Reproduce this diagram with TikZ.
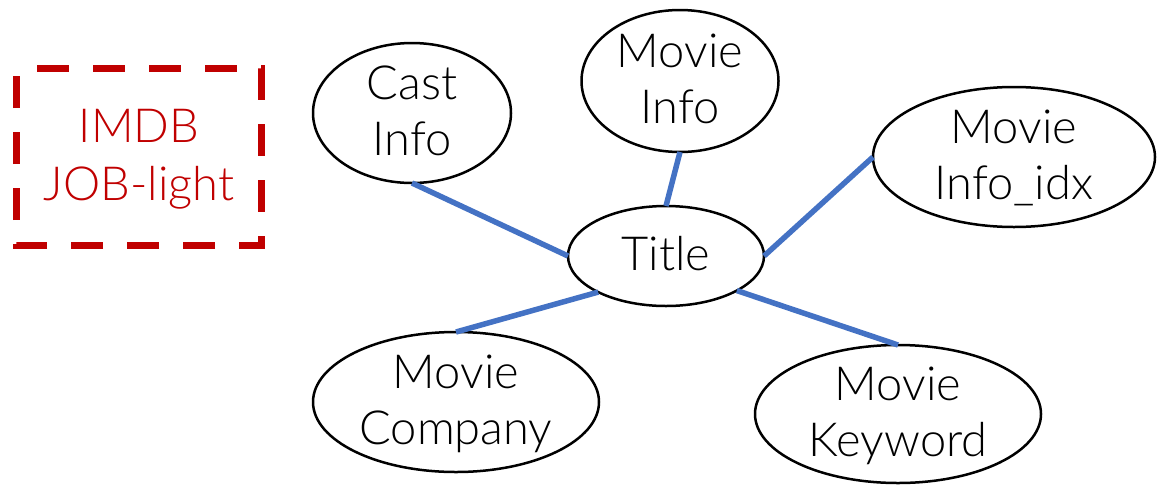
\documentclass[tikz,border=0pt]{standalone}
\usepackage{fontspec}
\setmainfont{Lato}[UprightFont={* Light}]
\usetikzlibrary{shapes.geometric}
\definecolor{linkblue}{HTML}{4472C4}
\definecolor{tagred}{HTML}{C00000}
% strut giving every text line the same height and depth
\newcommand{\lstrut}{\rule[-12pt]{0pt}{52pt}}
\tikzset{
  entity/.style={ellipse, draw=black, line width=2.5pt, inner sep=-40pt,
    outer sep=0pt, align=center, font=\fontsize{47}{56}\selectfont},
  link/.style={draw=linkblue, line width=5.5pt},
  tagbox/.style={draw=tagred, line width=7pt, dash pattern=on 32pt off 24pt,
    dash phase=35.5pt, line join=miter}
}
\begin{document}
\begin{tikzpicture}[x=1pt,y=-1pt]
\useasboundingbox (0,0) rectangle (1158,485);

% dataset tag
\coordinate (tl) at (16.5,68.5);
\coordinate (tr) at (261.5,68.5);
\coordinate (br) at (261.5,245.5);
\coordinate (bl) at (16.5,245.5);
\draw[tagbox] (tl) -- (tr) -- (br) -- (bl) -- cycle;
\node[align=center, text=tagred, inner sep=0pt,
  font=\fontsize{47}{58}\selectfont] (tag) at (139,157) {\lstrut IMDB\\\lstrut JOB-light};

% tables
\node[entity, minimum width=198pt, minimum height=140pt] (cast) at (412,113) {\lstrut Cast\\\lstrut Info};
\node[entity, minimum width=197pt, minimum height=142pt] (minfo) at (680,81) {\lstrut Movie\\\lstrut Info};
\node[entity, minimum width=282pt, minimum height=140pt] (idx) at (1014,157) {\lstrut Movie\\\lstrut Info\_idx};
\node[entity, minimum width=196pt, minimum height=100pt] (title) at (666,256) {\lstrut Title};
\node[entity, minimum width=286pt, minimum height=140pt] (company) at (456,402) {\lstrut Movie\\\lstrut Company};
\node[entity, minimum width=286pt, minimum height=138pt] (keyword) at (898,414) {\lstrut Movie\\\lstrut Keyword};

% join edges
\draw[link] (cast.south) -- (title.west);
\draw[link] (minfo.south) -- (title.north);
\draw[link] (idx.west) -- (title.east);
\draw[link] (title.208) -- (company.north);
\draw[link] (title.-26) -- (keyword.north);
\end{tikzpicture}
\end{document}
